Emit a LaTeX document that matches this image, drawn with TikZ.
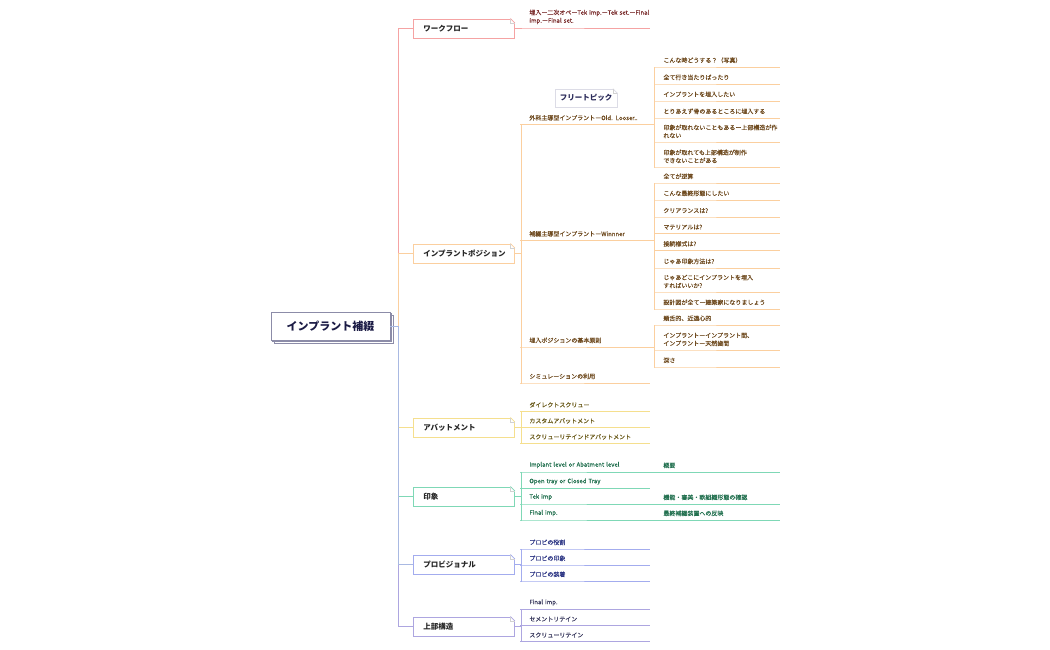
\documentclass[tikz,border=0pt]{standalone}
\usepackage{fontspec}
\setmainfont{Noto Sans CJK JP}
\newfontfamily\leaffont{Noto Sans CJK JP}[FakeBold=0.3]
\usetikzlibrary{shadows}

\definecolor{wfline}{HTML}{F5A3A3}
\definecolor{wftext}{HTML}{7B2E2E}
\definecolor{posline}{HTML}{FBCF9F}
\definecolor{postext}{HTML}{6E4A1F}
\definecolor{abline}{HTML}{F5DF8E}
\definecolor{abtext}{HTML}{6A5A1A}
\definecolor{impline}{HTML}{7FD8B6}
\definecolor{imptext}{HTML}{22704F}
\definecolor{provline}{HTML}{A3ACEE}
\definecolor{provtext}{HTML}{2E3785}
\definecolor{supline}{HTML}{ADA6E0}
\definecolor{suptext}{HTML}{3A3A5E}
\definecolor{trunkblue}{HTML}{A9B9E2}
\definecolor{rootline}{HTML}{8C8CA8}
\definecolor{roottext}{HTML}{1B1B45}
\definecolor{freeline}{HTML}{DCDCE6}
\definecolor{freetext}{HTML}{2B2B5A}

\tikzset{
    topic/.style={draw, fill=white, line width=0.9pt, anchor=west, text width=81pt,
        inner xsep=10pt, minimum height=19pt, align=left,
        font=\fontsize{7.5}{9}\selectfont\bfseries, text=black!85},
    leaf/.style={anchor=south west, inner xsep=9pt, inner ysep=3.5pt, align=left,
        font=\leaffont\fontsize{6}{8}\selectfont},
    kid/.style={leaf, text width=111pt},
    mid/.style={leaf, text width=116pt},
    sub/.style={leaf, text width=107pt},
}

\begin{document}
\begin{tikzpicture}[x=1pt, y=-1pt, line width=0.8pt]
        \useasboundingbox (0,0) rectangle (1050,650);

        % Root.
        \node[draw=rootline, fill=white, line width=0.8pt,
            double copy shadow={shadow xshift=1.6pt, shadow yshift=-1.6pt, draw=rootline, fill=white},
            minimum width=119pt, minimum height=28pt,
            font=\fontsize{11}{13}\selectfont\bfseries, text=roottext] (root) at (330.5,326) {インプラント補綴};

        % Main topics.
        \node[topic, draw=wfline] (wf) at (413,28.5) {ワークフロー};
        \node[topic, draw=posline] (pos) at (413,253.5) {インプラントポジション};
        \node[topic, draw=abline] (ab) at (413,427.5) {アバットメント};
        \node[topic, draw=impline] (imp) at (413,496.5) {印象};
        \node[topic, draw=provline] (prov) at (413,564.5) {プロビジョナル};
        \node[topic, draw=supline] (sup) at (413,626.5) {上部構造};

        % Floating topic.
        \node[draw=freeline, fill=white, line width=0.6pt, minimum width=62pt, minimum height=18pt,
            font=\fontsize{7.5}{9}\selectfont\bfseries, text=freetext] (free) at (586,98) {フリートピック};

        % Trunk.
        \draw[supline] (root.east) -- ++(8,0) |- (sup.west);
        \draw[abline] (root.east) -- ++(8,0) |- (ab.west);
        \draw[impline] (root.east) -- ++(8,0) |- (imp.west);
        \draw[wfline] (root.east) -- ++(8,0) |- (wf.west);
        \draw[posline] (root.east) -- ++(8,0) |- (pos.west);
        \draw[trunkblue] (root.east) -- ++(8,0) |- (prov.west);

        % Dog-ears.
        \foreach \n/\c in {wf/wfline, pos/posline, ab/abline, imp/impline, prov/provline, sup/supline, free/freeline} {
            \fill[white] (\n.north east) ++(-4.5,-0.5) -- ++(5,0) -- ++(0,5) -- cycle;
            \draw[\c, line width=0.6pt] (\n.north east) ++(-4.5,0) -- ++(4.5,4.5);
            \draw[gray!35, line width=0.4pt] (\n.north east) ++(-4.5,0) -- ++(0,4.5) -- ++(4.5,0);
        }

        % Workflow.
        \node[kid, text=wftext] (wf1) at (520,28) {\mbox{埋入ー二次オペーTek imp.ーTek set.ーFinal}\\imp.ーFinal set.};
        \draw[wfline] (wf.east) -- ++(6,0) |- (wf1.south west) -- (wf1.south east);

        % Implant position.
        \node[mid, text=postext] (p1) at (520,124.5) {外科主導型インプラントーOld. Looser..};
        \node[mid, text=postext] (p2) at (520,240.5) {補綴主導型インプラントーWinnner};
        \node[mid, text=postext] (p3) at (520,347) {埋入ポジションの基本原則};
        \node[kid, text=postext] (p4) at (520,383) {シミュレーションの利用};
        \foreach \k in {p1,p2,p3,p4}
            \draw[posline] (pos.east) -- ++(6,0) |- (\k.south west) -- (\k.south east);

        \node[sub, text=postext] (p11) at (654,67) {こんな時どうする？（写真）};
        \node[sub, text=postext] (p12) at (654,84) {全て行き当たりばったり};
        \node[sub, text=postext] (p13) at (654,101) {インプラントを埋入したい};
        \node[sub, text=postext] (p14) at (654,118) {とりあえず骨のあるところに埋入する};
        \node[sub, text=postext] (p15) at (654,142) {印象が取れないこともあるー上部構造が作\\れない};
        \node[sub, text=postext] (p16) at (654,167) {印象が取れても上部構造が制作\\できないことがある};
        \foreach \k in {p11,p12,p13,p14,p15,p16}
            \draw[posline] (p1.south east) |- (\k.south west) -- (\k.south east);

        \node[sub, text=postext] (p21) at (654,183) {全てが逆算};
        \node[sub, text=postext] (p22) at (654,200) {こんな最終形態にしたい};
        \node[sub, text=postext] (p23) at (654,217) {クリアランスは?};
        \node[sub, text=postext] (p24) at (654,233.5) {マテリアルは?};
        \node[sub, text=postext] (p25) at (654,250.5) {接続様式は?};
        \node[sub, text=postext] (p26) at (654,268) {じゃあ印象方法は?};
        \node[sub, text=postext] (p27) at (654,292) {じゃあどこにインプラントを埋入\\すればいいか?};
        \node[sub, text=postext] (p28) at (654,309) {設計図が全てー建築家になりましょう};
        \foreach \k in {p21,p22,p23,p24,p25,p26,p27,p28}
            \draw[posline] (p2.south east) |- (\k.south west) -- (\k.south east);

        \node[sub, text=postext] (p31) at (654,325) {頬舌的、近遠心的};
        \node[sub, text=postext] (p32) at (654,350) {インプラントーインプラント間、\\インプラントー天然歯間};
        \node[sub, text=postext] (p33) at (654,367) {深さ};
        \foreach \k in {p31,p32,p33}
            \draw[posline] (p3.south east) |- (\k.south west) -- (\k.south east);

        % Abutment.
        \node[kid, text=abtext] (a1) at (520,411.5) {ダイレクトスクリュー};
        \node[kid, text=abtext] (a2) at (520,427.5) {カスタムアバットメント};
        \node[kid, text=abtext] (a3) at (520,443.5) {スクリューリテインドアバットメント};
        \foreach \k in {a1,a2,a3}
            \draw[abline] (ab.east) -- ++(6,0) |- (\k.south west) -- (\k.south east);

        % Impression.
        \node[mid, text=imptext] (i1) at (520,472) {Implant level or Abatment level};
        \node[kid, text=imptext] (i2) at (520,488.5) {Open tray or Closed Tray};
        \node[mid, text=imptext] (i3) at (520,504) {Tek imp};
        \node[mid, text=imptext] (i4) at (520,520) {Final imp.};
        \foreach \k in {i1,i2,i3,i4}
            \draw[impline] (imp.east) -- ++(6,0) |- (\k.south west) -- (\k.south east);

        \node[sub, text=imptext] (i11) at (654,472) {概要};
        \node[sub, text=imptext] (i31) at (654,504) {機能・審美・軟組織形態の確認};
        \node[sub, text=imptext] (i41) at (654,520) {最終補綴装置への反映};
        \draw[impline] (i1.south east) -- (i11.south east);
        \draw[impline] (i3.south east) -- (i31.south east);
        \draw[impline] (i4.south east) -- (i41.south east);

        % Provisional.
        \node[kid, text=provtext] (v1) at (520,549) {プロビの役割};
        \node[kid, text=provtext] (v2) at (520,565) {プロビの印象};
        \node[kid, text=provtext] (v3) at (520,581) {プロビの装着};
        \foreach \k in {v1,v2,v3}
            \draw[provline] (prov.east) -- ++(6,0) |- (\k.south west) -- (\k.south east);

        % Superstructure.
        \node[kid, text=suptext] (s1) at (520,609.5) {Final imp.};
        \node[kid, text=suptext] (s2) at (520,625.5) {セメントリテイン};
        \node[kid, text=suptext] (s3) at (520,641.5) {スクリューリテイン};
        \foreach \k in {s1,s2,s3}
            \draw[supline] (sup.east) -- ++(6,0) |- (\k.south west) -- (\k.south east);

    \end{tikzpicture}
\end{document}
